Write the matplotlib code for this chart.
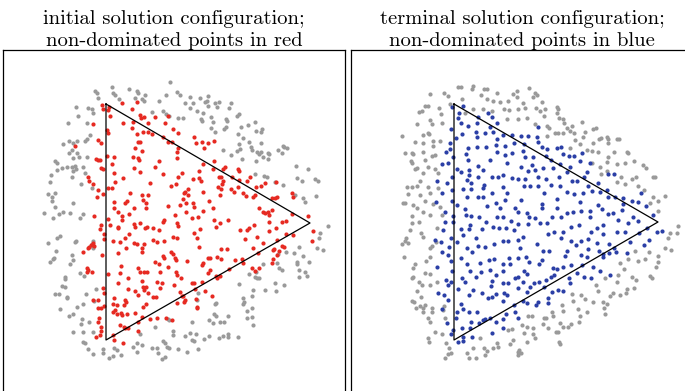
import matplotlib.pyplot as plt
import numpy as np

plt.rcParams['axes.formatter.use_mathtext'] = True

# point positions (image pixel units)
tri_left = [(106, 104), (310, 223), (106, 340), (106, 104)]
tri_right = [(454, 104), (658, 222), (454, 340), (454, 104)]

gray_left = [
    (170, 82), (112, 87), (129, 89), (137, 91), (138, 93), (95, 91), (97, 93), (113, 93), (115, 95), (145, 95),
    (98, 98), (119, 99), (135, 98), (142, 99), (144, 101), (159, 101), (177, 92), (180, 95), (166, 95), (76, 107),
    (88, 108), (92, 109), (93, 113), (152, 112), (163, 111), (166, 114), (169, 116), (178, 118), (183, 118), (78, 116),
    (68, 123), (87, 123), (90, 135), (87, 139), (85, 141), (77, 141), (73, 143), (69, 141), (63, 144), (72, 150),
    (77, 153), (69, 153), (79, 157), (73, 158), (55, 161), (57, 163), (87, 157), (67, 167), (62, 168), (57, 170),
    (72, 167), (75, 166), (76, 169), (73, 171), (83, 167), (85, 173), (51, 175), (50, 182), (72, 177), (81, 184),
    (92, 188), (55, 193), (48, 194), (52, 197), (52, 201), (55, 207), (73, 203), (63, 212), (59, 214), (44, 213),
    (70, 213), (83, 214), (80, 218), (53, 218),
    (185, 103), (190, 97), (193, 103), (200, 98), (205, 102), (207, 101), (208, 96), (208, 106), (215, 103), (219, 102),
    (217, 107), (231, 103), (229, 108), (190, 108), (197, 111), (203, 113), (201, 119), (202, 121), (211, 117), (213, 122),
    (226, 119), (227, 121), (237, 116), (239, 114), (211, 128), (215, 132), (224, 129), (226, 127), (241, 127), (248, 125),
    (255, 122), (256, 131), (262, 129), (261, 132), (238, 134), (243, 138), (239, 144), (249, 142), (251, 147), (252, 150),
    (261, 143), (257, 152), (237, 151), (240, 149), (223, 150), (231, 155), (242, 159), (259, 154), (261, 152), (256, 161),
    (263, 157), (268, 153), (269, 154), (268, 159), (278, 150), (283, 146), (284, 147), (287, 148), (282, 153), (296, 166),
    (308, 169), (255, 174), (264, 176), (267, 177), (275, 182), (283, 185), (297, 178), (302, 181), (315, 179), (318, 181),
    (295, 195), (303, 198), (305, 202), (316, 196),
    (48, 243), (57, 238), (60, 236), (56, 251), (54, 258), (53, 259), (50, 262), (72, 255), (73, 260), (70, 264),
    (75, 242), (76, 241), (93, 241), (92, 244), (93, 248), (80, 273), (84, 276), (65, 277), (65, 279), (62, 286),
    (65, 287), (55, 294), (59, 294), (67, 297), (67, 298), (86, 294), (96, 289), (77, 307), (83, 304), (60, 309),
    (73, 314), (69, 316), (94, 301), (82, 319), (81, 324), (89, 322), (73, 332), (83, 332), (93, 332), (83, 342),
    (85, 343), (88, 349), (93, 354), (103, 349), (103, 353), (109, 358), (113, 356), (114, 348), (117, 350), (121, 355),
    (133, 347), (137, 352), (137, 343), (142, 345), (140, 334), (155, 327), (152, 348), (157, 348), (158, 353), (162, 359),
    (165, 357), (163, 341), (165, 343), (167, 347), (169, 348), (173, 331), (173, 335), (178, 349), (168, 319), (169, 320),
    (320, 233), (328, 226), (319, 238), (317, 248), (323, 250), (299, 247), (294, 253), (303, 256), (309, 262), (297, 262),
    (297, 264), (299, 270), (305, 272), (307, 276), (299, 277), (278, 254), (286, 252), (277, 263), (279, 268), (282, 270),
    (263, 264), (256, 272), (255, 277), (257, 278), (259, 278), (249, 274), (239, 284), (275, 283), (284, 285), (276, 291),
    (265, 290), (253, 290), (252, 296), (243, 298), (244, 302), (243, 304), (252, 308), (247, 311), (252, 317), (247, 318),
    (253, 325), (228, 316), (224, 322), (220, 322), (214, 314), (216, 316), (209, 320), (213, 323), (215, 304), (216, 303),
    (198, 293), (197, 300), (192, 322), (185, 336), (190, 333), (196, 334), (194, 341), (192, 340), (204, 339), (209, 336),
    (219, 338), (223, 336), (228, 334), (228, 337), (238, 337), (198, 349), (187, 352),
]

red_left = [
    (102, 105), (103, 109), (108, 110), (109, 107), (122, 103), (137, 102), (110, 116), (132, 109), (140, 115), (141, 118),
    (144, 117), (155, 117), (168, 116), (165, 123), (123, 123), (133, 122), (148, 123), (93, 124), (107, 130), (108, 133),
    (132, 128), (143, 132), (148, 132), (152, 134), (173, 129), (178, 133), (137, 134), (163, 137), (168, 142), (172, 142),
    (98, 140), (101, 143), (75, 146), (135, 148), (138, 142), (140, 142), (142, 151), (178, 148), (177, 152), (133, 157),
    (138, 158), (139, 160), (159, 161), (96, 159), (98, 160), (100, 160), (112, 164), (107, 156), (114, 157), (101, 168),
    (103, 169), (134, 168), (140, 172), (155, 167), (177, 158), (182, 173), (178, 177), (114, 173), (123, 178), (115, 182),
    (88, 177), (89, 181), (163, 174), (171, 186), (176, 184), (150, 183), (184, 193), (93, 184), (98, 190), (108, 188),
    (112, 188), (130, 193), (142, 195), (148, 195), (103, 194), (97, 197), (114, 202), (125, 203), (127, 201), (143, 200),
    (146, 203), (183, 199), (114, 208), (134, 208), (146, 208), (168, 206), (180, 205), (94, 216), (118, 212), (122, 216),
    (129, 214), (108, 219), (175, 215),
    (194, 137), (196, 143), (202, 142), (204, 148), (208, 143), (214, 141), (214, 161), (203, 164), (199, 171), (213, 169),
    (223, 169), (225, 167), (199, 178), (201, 181), (193, 179), (219, 177), (221, 177), (223, 181), (222, 184), (218, 187),
    (221, 189), (220, 195), (232, 177), (238, 169), (239, 171), (239, 180), (247, 181), (250, 177), (231, 189), (234, 192),
    (238, 187), (243, 193), (246, 196), (253, 197), (255, 195), (256, 187), (261, 186), (265, 183), (276, 182), (272, 198),
    (275, 198), (277, 197), (292, 193), (293, 197), (188, 189), (185, 192), (188, 195), (203, 192), (209, 201), (213, 208),
    (186, 203), (193, 203), (194, 207), (186, 212), (192, 218), (198, 217), (203, 211), (259, 208), (263, 212), (265, 213),
    (269, 215), (272, 210), (268, 212), (292, 214), (308, 216),
    (101, 225), (100, 229), (104, 234), (104, 239), (110, 225), (118, 227), (118, 228), (122, 220), (134, 224), (135, 227),
    (140, 223), (145, 228), (147, 227), (153, 228), (159, 230), (163, 222), (164, 220), (177, 223), (178, 226), (129, 234),
    (125, 238), (120, 242), (113, 241), (134, 243), (137, 244), (144, 244), (142, 248), (126, 248), (153, 240), (157, 242),
    (164, 241), (173, 237), (177, 238), (93, 243), (91, 245), (89, 247), (94, 246), (88, 248), (83, 252), (102, 255),
    (118, 253), (142, 252), (155, 262), (159, 264), (163, 256), (164, 258), (171, 252), (173, 254), (175, 258), (176, 260),
    (168, 267), (121, 266), (138, 268), (140, 272), (144, 272), (147, 272), (160, 272), (176, 272), (177, 275), (181, 278),
    (87, 268), (88, 270), (87, 272), (92, 272), (108, 274), (120, 273), (128, 278), (118, 283), (142, 281), (143, 287),
    (146, 287), (144, 290), (148, 293), (157, 282), (162, 283), (174, 285), (128, 289), (135, 291), (138, 295), (153, 297),
    (156, 297), (160, 288), (103, 288), (104, 293), (114, 298), (125, 300), (126, 302), (180, 292), (182, 296), (183, 296),
    (184, 302), (177, 303), (98, 300), (93, 300), (104, 306), (113, 304), (117, 305), (124, 305), (146, 304), (143, 307),
    (98, 308), (101, 308), (113, 312), (115, 310), (117, 314), (121, 313), (122, 315), (127, 314), (135, 313), (142, 317),
    (150, 319), (157, 318), (166, 318), (172, 320), (99, 318), (98, 322), (138, 322), (120, 325), (124, 327), (125, 328),
    (128, 328), (101, 327), (101, 331), (100, 335), (96, 337), (138, 331), (113, 335), (114, 340), (123, 343),
    (214, 220), (220, 223), (216, 227), (228, 220), (240, 230), (247, 230), (249, 228), (254, 225), (269, 222), (269, 231),
    (276, 228), (282, 222), (286, 221), (313, 231), (312, 241), (293, 235), (286, 234), (277, 240), (257, 237), (245, 239),
    (263, 243), (253, 248), (258, 253), (273, 250), (274, 249), (282, 246), (284, 247), (279, 251), (277, 255), (273, 259),
    (272, 263), (194, 233), (197, 238), (200, 229), (199, 247), (187, 261), (221, 249), (227, 249), (217, 257), (221, 259),
    (208, 258), (210, 258), (203, 263), (202, 265), (235, 260), (242, 259), (243, 263), (229, 269), (252, 268), (255, 271),
    (259, 268), (210, 270), (208, 273), (216, 276), (217, 278), (220, 276), (192, 283), (194, 283), (202, 282), (205, 291),
    (195, 289), (185, 300), (212, 296), (196, 299), (197, 307), (197, 308),
]

gray_right = [
    (458, 87), (461, 87), (473, 86), (472, 89), (484, 89), (487, 89), (497, 93), (517, 91), (513, 94), (517, 97),
    (529, 88), (430, 94), (444, 93), (448, 96), (462, 99), (481, 95), (487, 99), (493, 101), (500, 102), (508, 101),
    (523, 103), (425, 106), (428, 106), (439, 108), (450, 104), (422, 111), (419, 112), (441, 114), (430, 120), (432, 124),
    (442, 123), (417, 124), (465, 113), (473, 109), (483, 109), (492, 111), (504, 109), (509, 110), (518, 109), (525, 108),
    (507, 119), (518, 119), (527, 118), (428, 133), (429, 134), (423, 135), (402, 136), (415, 142), (423, 143), (433, 141),
    (440, 141), (433, 146), (405, 153), (412, 153), (413, 154), (423, 152), (432, 156), (435, 155), (425, 160), (411, 161),
    (412, 163), (428, 167), (417, 168), (415, 169), (435, 169), (438, 173), (423, 173), (420, 181), (407, 187), (412, 187),
    (417, 186), (428, 187), (438, 188), (408, 194), (420, 195), (430, 193), (403, 203), (405, 203), (413, 205), (425, 201),
    (433, 204), (440, 207), (417, 208), (423, 212), (442, 215), (412, 216), (430, 215),
    (533, 97), (537, 95), (535, 93), (542, 102), (536, 108), (540, 111), (545, 109), (544, 116), (557, 107), (558, 109),
    (557, 113), (559, 118), (563, 119), (564, 123), (572, 126), (567, 128), (582, 122), (585, 132), (593, 129), (596, 128),
    (555, 133), (558, 133), (563, 133), (570, 131), (574, 133), (535, 124), (547, 126), (549, 128), (547, 136), (575, 140),
    (583, 137), (580, 144), (593, 143), (599, 139), (601, 138), (607, 137), (608, 139), (608, 143), (617, 139), (619, 139),
    (570, 148), (587, 150), (592, 151), (598, 152), (608, 157), (614, 152), (627, 152), (628, 153), (592, 163), (607, 162),
    (617, 164), (625, 163), (634, 161), (643, 165), (646, 168), (600, 167), (601, 174), (607, 171), (621, 177), (617, 182),
    (632, 179), (636, 177), (653, 177), (655, 177), (625, 184), (638, 186), (644, 190), (653, 197), (658, 201), (665, 196),
    (658, 211), (650, 203),
    (412, 223), (419, 222), (410, 230), (421, 233), (423, 237), (406, 238), (405, 241), (402, 244), (408, 243), (432, 246),
    (430, 248), (437, 228), (436, 242), (404, 257), (426, 261), (430, 257), (415, 264), (413, 268), (425, 273), (430, 274),
    (413, 277), (412, 278), (419, 282), (422, 285), (430, 285), (437, 282), (417, 291), (421, 297), (412, 301), (414, 302),
    (416, 308), (420, 306), (425, 305), (423, 308), (432, 308), (423, 312), (432, 312), (444, 306), (443, 310), (445, 318),
    (428, 318), (430, 322), (435, 332), (442, 334), (428, 338), (429, 342), (446, 343), (449, 348), (451, 353), (448, 354),
    (445, 358), (467, 353), (469, 358), (476, 358), (473, 348), (480, 338), (484, 348), (487, 351), (485, 355), (493, 348),
    (497, 343), (498, 347), (508, 330), (512, 329), (522, 325), (527, 327), (524, 333), (528, 316), (532, 316), (533, 328),
    (527, 342), (513, 340), (510, 344), (518, 352), (519, 350), (521, 353), (518, 355),
    (670, 233), (678, 226), (677, 233), (668, 238), (665, 248), (671, 250), (649, 252), (635, 251), (658, 256), (658, 262),
    (656, 267), (650, 276), (652, 278), (645, 259), (638, 261), (628, 259), (620, 263), (624, 269), (618, 275), (605, 278),
    (617, 282), (632, 277), (636, 280), (634, 288), (627, 289), (596, 285), (598, 291), (626, 293), (620, 295), (613, 293),
    (610, 296), (572, 294), (581, 295), (585, 299), (593, 302), (603, 302), (607, 304), (562, 305), (573, 301), (563, 311),
    (578, 309), (587, 312), (604, 308), (605, 314), (552, 312), (553, 316), (580, 316), (544, 318), (546, 318), (543, 324),
    (548, 328), (560, 323), (563, 327), (568, 327), (571, 324), (579, 322), (556, 332), (558, 332), (533, 334), (535, 338),
    (559, 342), (560, 344),
]

blue_right = [
    (452, 107), (463, 106), (459, 113), (458, 118), (461, 123), (468, 126), (451, 129), (478, 117), (477, 123), (488, 113),
    (492, 117), (497, 123), (490, 127), (462, 134), (476, 132), (477, 137), (485, 133), (493, 132), (497, 139), (503, 135),
    (512, 135), (521, 136), (528, 136), (514, 143), (505, 146), (524, 144), (496, 145), (477, 147), (486, 147), (456, 138),
    (450, 143), (450, 149), (446, 152), (468, 148), (466, 154), (468, 160), (490, 160), (497, 152), (512, 153), (523, 151),
    (525, 157), (505, 155), (507, 163), (521, 167), (532, 165), (442, 164), (448, 163), (453, 157), (457, 169), (461, 172),
    (469, 170), (469, 175), (478, 166), (483, 170), (478, 177), (492, 177), (498, 177), (503, 175), (512, 178), (518, 179),
    (525, 179), (528, 171), (437, 181), (452, 177), (447, 183), (467, 180), (471, 183), (463, 189), (471, 189), (484, 185),
    (483, 188), (492, 193), (503, 187), (507, 193), (524, 186), (530, 186), (442, 193), (452, 190), (467, 197), (478, 197),
    (483, 197), (496, 203), (505, 200), (521, 200), (436, 202), (452, 201), (457, 205), (465, 209), (487, 206), (500, 208),
    (515, 208), (518, 212), (527, 213), (445, 212), (453, 216), (466, 215), (471, 216), (479, 217), (497, 217), (503, 217),
    (529, 217),
    (538, 127), (537, 137), (538, 142), (542, 147), (547, 149), (557, 148), (561, 147), (563, 154), (569, 156), (574, 156),
    (582, 153), (580, 161), (590, 163), (546, 156), (533, 157), (551, 160), (560, 164), (543, 168), (553, 168), (570, 167),
    (587, 172), (535, 170), (538, 177), (546, 179), (559, 177), (567, 172), (572, 181), (577, 181), (584, 177), (608, 174),
    (614, 174), (538, 186), (551, 185), (560, 186), (567, 192), (574, 194), (583, 193), (588, 186), (592, 191), (598, 183),
    (600, 192), (607, 190), (608, 197), (615, 197), (623, 198), (623, 204), (632, 201), (638, 202), (646, 206), (641, 193),
    (544, 193), (557, 199), (580, 202), (542, 204), (542, 208), (557, 208), (567, 213), (573, 212), (581, 211), (590, 211),
    (602, 209), (598, 205), (608, 214), (613, 213), (622, 210), (633, 217), (653, 215), (535, 218), (552, 217), (561, 217),
    (590, 217),
    (453, 222), (445, 222), (443, 230), (451, 238), (457, 242), (435, 240), (441, 242), (442, 252), (449, 247), (448, 255),
    (451, 261), (437, 267), (452, 271), (446, 280), (451, 282), (448, 285), (438, 293), (444, 295), (448, 300), (442, 309),
    (457, 312), (456, 318), (447, 323), (453, 330), (451, 334), (458, 342), (463, 341), (472, 337), (461, 229), (463, 235),
    (470, 225), (469, 229), (476, 238), (482, 229), (486, 222), (493, 227), (499, 228), (506, 228), (511, 221), (514, 230),
    (518, 224), (528, 224), (523, 237), (518, 240), (508, 241), (503, 241), (494, 244), (485, 247), (478, 246), (467, 248),
    (472, 252), (461, 258), (467, 264), (480, 263), (489, 260), (494, 259), (503, 264), (510, 264), (509, 258), (520, 248),
    (518, 258), (526, 257), (529, 262), (490, 270), (496, 275), (503, 271), (515, 278), (518, 277), (524, 271), (527, 274),
    (462, 278), (465, 282), (476, 277), (481, 272), (470, 271), (458, 289), (473, 290), (482, 293), (492, 281), (491, 286),
    (496, 294), (503, 283), (504, 293), (507, 295), (508, 283), (518, 288), (523, 282), (530, 287), (527, 292), (523, 301),
    (527, 303), (514, 305), (503, 301), (492, 297), (488, 298), (469, 295), (461, 304), (469, 312), (477, 312), (463, 309),
    (483, 320), (479, 323), (485, 319), (490, 318), (496, 322), (503, 319), (506, 314), (515, 312), (518, 318), (471, 322),
    (470, 328), (462, 328), (503, 328), (492, 333), (463, 337),
    (540, 223), (547, 223), (548, 234), (554, 232), (563, 232), (571, 227), (579, 225), (591, 232), (597, 228), (603, 225),
    (603, 234), (617, 232), (625, 232), (618, 220), (628, 223), (638, 221), (647, 228), (639, 233), (649, 240), (657, 232),
    (662, 231), (644, 245), (630, 242), (609, 244), (614, 248), (597, 243), (603, 254), (609, 253), (616, 252), (627, 253),
    (588, 239), (588, 249), (581, 241), (571, 241), (561, 238), (576, 245), (567, 251), (565, 256), (581, 255), (587, 257),
    (599, 251), (537, 244), (543, 251), (549, 251), (542, 260), (539, 264), (563, 267), (571, 265), (582, 265), (593, 267),
    (600, 271), (603, 257), (553, 268), (557, 269), (551, 277), (554, 275), (546, 280), (539, 282), (534, 283), (544, 287),
    (569, 278), (570, 283), (577, 273), (584, 277), (591, 278), (610, 275), (552, 292), (558, 290), (563, 291), (548, 298),
    (548, 303), (538, 302), (536, 305),
]

titles = ["initial solution configuration;\nnon-dominated points in red",
          "terminal solution configuration;\nnon-dominated points in blue"]
gray_c = "#9a9a9a"
red_c = "#e62a22"
blue_c = "#2b3fa6"

fig = plt.figure(figsize=(6.85, 3.91), dpi=100)
W, H = 685.0, 391.0
panels = [
    (3, gray_left, red_left, red_c, tri_left),
    (351, gray_right, blue_right, blue_c, tri_right),
]
for i, (x0, grays, cols, col, tri) in enumerate(panels):
    ax = fig.add_axes([x0 / W, -1 / H, 342 / W, 342 / H])
    g = np.array(grays)
    c = np.array(cols)
    t = np.array(tri)
    ax.scatter(g[:, 0], g[:, 1], s=9, color=gray_c, linewidths=0, zorder=2)
    ax.scatter(c[:, 0], c[:, 1], s=9, color=col, linewidths=0, zorder=3)
    ax.plot(t[:, 0], t[:, 1], color="black", lw=0.9, zorder=4)
    ax.set_xlim(x0, x0 + 342)
    ax.set_ylim(392, 50)
    ax.set_xticks([])
    ax.set_yticks([])
    for sp in ax.spines.values():
        sp.set_linewidth(0.9)
    ax.set_title(titles[i], fontsize=14.8, family="cmr10", linespacing=1.25, pad=3)

fig.savefig("out.png", dpi=100)
